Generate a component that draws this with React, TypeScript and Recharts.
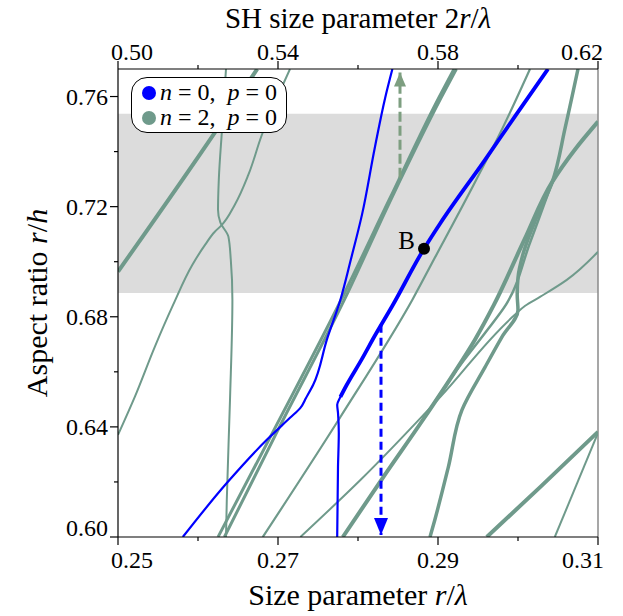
import { LineChart, Line, XAxis, YAxis, ReferenceArea, ReferenceLine, ReferenceDot, Legend, Label } from 'recharts';

const FONT = '"Liberation Serif", "DejaVu Serif", serif';
const GREEN = '#6f9a8b';
const BLUE = '#0000ff';
const ARROW_GREEN = '#7d9e80';

// axis ticks
const xTicks = [0.25, 0.26, 0.27, 0.28, 0.29, 0.3, 0.31];
const xLabelled = [0.25, 0.27, 0.29, 0.31];
const topTicks = [0.5, 0.52, 0.54, 0.56, 0.58, 0.6, 0.62];
const topLabelled = [0.5, 0.54, 0.58, 0.62];
const yTicks = [0.6, 0.62, 0.64, 0.66, 0.68, 0.7, 0.72, 0.74, 0.76];
const yLabelled = [0.6, 0.64, 0.68, 0.72, 0.76];

// shaded band (aspect ratio range)
const bandLow = 0.6886;
const bandHigh = 0.7537;

// n = 0, p = 0 branches (points ordered by rising aspect ratio)
const blueA = [
  [0.2581, 0.6], [0.2636, 0.6196], [0.2686, 0.6353], [0.2715, 0.6433], [0.2728, 0.6469],
  [0.2735, 0.6505], [0.2744, 0.6553], [0.2761, 0.6716], [0.2778, 0.6862], [0.2791, 0.7007],
  [0.2805, 0.7171], [0.2821, 0.7414], [0.2834, 0.7596], [0.2843, 0.77],
];
const blueLow = [
  [0.2774, 0.6], [0.2775, 0.6255], [0.2776, 0.6378], [0.2775, 0.6451], [0.2774, 0.648],
  [0.2778, 0.6509], [0.2786, 0.6553],
];
const blueHigh = [
  [0.2778, 0.6509], [0.2786, 0.6553], [0.2805, 0.6647], [0.2821, 0.6731], [0.2843, 0.684],
  [0.28825, 0.7047], [0.29025, 0.7138], [0.2959, 0.7371], [0.2996, 0.7527], [0.30375, 0.77],
];

// n = 2, p = 0 branches
const g1 = [[0.25, 0.6964], [0.2621, 0.7469], [0.2674, 0.77]];
const g2 = [
  [0.25, 0.6371], [0.2521, 0.6509], [0.2546, 0.6691], [0.2569, 0.6844], [0.2593, 0.6989],
  [0.2609, 0.7062], [0.2621, 0.7109], [0.2629, 0.7131], [0.2646, 0.7207], [0.2663, 0.7316],
  [0.268, 0.7462], [0.2698, 0.7589], [0.2715, 0.77],
];
const g3 = [
  [0.2635, 0.6], [0.2636, 0.6135], [0.264, 0.6498], [0.2643, 0.6862], [0.2641, 0.7007],
  [0.2638, 0.7091], [0.2628, 0.7142], [0.2625, 0.7189], [0.2626, 0.7298], [0.263, 0.748],
  [0.2635, 0.77],
];
const g4a = [[0.2625, 0.6], [0.2695, 0.6389], [0.2779, 0.6862], [0.2839, 0.7225], [0.2901, 0.7596], [0.292, 0.77]];
const g4b = [[0.2633, 0.6], [0.27, 0.6389], [0.2783, 0.6862], [0.2841, 0.7225], [0.2904, 0.7596], [0.2923, 0.77]];
const g6 = [
  [0.2681, 0.6], [0.2778, 0.6436], [0.2868, 0.6862], [0.2896, 0.7014], [0.294, 0.7254],
  [0.2981, 0.7487], [0.3015, 0.77],
];
const g7 = [
  [0.2728, 0.6], [0.2803, 0.6207], [0.2903, 0.6509], [0.2996, 0.6807], [0.3009, 0.684],
  [0.3028, 0.6873], [0.3061, 0.6934], [0.31, 0.7036],
];
const g8a = [
  [0.2781, 0.6], [0.2831, 0.6215], [0.2881, 0.6425], [0.2921, 0.66], [0.2946, 0.6716],
  [0.297, 0.6844], [0.3008, 0.708], [0.3043, 0.7291], [0.3071, 0.7407], [0.31, 0.7509],
];
const g8b = [
  [0.2881, 0.6425], [0.2928, 0.6625], [0.2959, 0.6742], [0.2985, 0.6844], [0.3015, 0.7069],
  [0.3043, 0.7291],
];
const g9 = [
  [0.289, 0.6], [0.2896, 0.6062], [0.2913, 0.6255], [0.293, 0.6462], [0.2959, 0.6618],
  [0.298, 0.6727], [0.3, 0.6825], [0.2999, 0.688], [0.3, 0.6942], [0.3006, 0.7025],
  [0.3021, 0.7145], [0.3043, 0.7291], [0.3059, 0.7487], [0.3075, 0.77],
];
const g11 = [[0.2961, 0.6], [0.3028, 0.6182], [0.31, 0.6382]];
const g12 = [[0.3046, 0.6], [0.31, 0.6378]];

// arrows and marked point (the upward arrow points to the SH axis, in 2r/λ units)
const arrowDown = [[0.282875, 0.6771], [0.282875, 0.6007]];
const arrowUpSH = [[0.5705, 0.7305], [0.5705, 0.7687]];
const pointB = { x: 0.28825, y: 0.7047, name: 'B' };

const legendItems = [
  { color: BLUE, n: '0', p: '0' },
  { color: GREEN, n: '2', p: '0' },
];

const pts = (a: number[][]) => a.map(([x, y]) => ({ x, y }));

const greenCurves = [
  { key: 'g1', data: g1, w: 4 },
  { key: 'g2', data: g2, w: 2 },
  { key: 'g3', data: g3, w: 2 },
  { key: 'g4a', data: g4a, w: 3 },
  { key: 'g4b', data: g4b, w: 3 },
  { key: 'g6', data: g6, w: 2.2 },
  { key: 'g7', data: g7, w: 2 },
  { key: 'g8a', data: g8a, w: 4 },
  { key: 'g8b', data: g8b, w: 2.5 },
  { key: 'g9', data: g9, w: 3.5 },
  { key: 'g11', data: g11, w: 4 },
  { key: 'g12', data: g12, w: 2 },
];

const blueCurves = [
  { key: 'bA', data: blueA, w: 2.2 },
  { key: 'bLow', data: blueLow, w: 2.2 },
  { key: 'bHigh', data: blueHigh, w: 3.8 },
];

const same = (a: number, b: number) => Math.abs(a - b) < 1e-9;

function BottomTick({ x, y, payload }: any) {
  const v = payload.value;
  const major = xLabelled.some(t => same(t, v));
  const len = major ? 8 : 4;
  const shift = same(v, xLabelled[0]) ? 14 : same(v, xLabelled[xLabelled.length - 1]) ? -15 : 0;
  return (
    <g>
      <line x1={x} y1={y} x2={x} y2={y + len} stroke="#000" strokeWidth={1.2} />
      {major && (
        <text x={x + shift} y={y + 31} textAnchor="middle" fontFamily={FONT} fontSize={24} fill="#000">
          {v.toFixed(2)}
        </text>
      )}
    </g>
  );
}

function TopTick({ x, y, payload }: any) {
  const v = payload.value;
  const major = topLabelled.some(t => same(t, v));
  const len = major ? 8 : 4;
  const shift = same(v, topLabelled[0]) ? 14 : same(v, topLabelled[topLabelled.length - 1]) ? -16 : 0;
  return (
    <g>
      <line x1={x} y1={y} x2={x} y2={y - len} stroke="#000" strokeWidth={1.2} />
      {major && (
        <text x={x + shift} y={y - 9} textAnchor="middle" fontFamily={FONT} fontSize={24} fill="#000">
          {v.toFixed(2)}
        </text>
      )}
    </g>
  );
}

function LeftTick({ x, y, payload }: any) {
  const v = payload.value;
  const major = yLabelled.some(t => same(t, v));
  const len = major ? 8 : 4;
  const shift = same(v, yLabelled[0]) ? -9 : 0;
  return (
    <g>
      <line x1={x} y1={y} x2={x - len} y2={y} stroke="#000" strokeWidth={1.2} />
      {major && (
        <text x={x - 10} y={y + 8 + shift} textAnchor="end" fontFamily={FONT} fontSize={24} fill="#000">
          {v.toFixed(2)}
        </text>
      )}
    </g>
  );
}

const arrowHead = (color: string, up: boolean, w: number, h: number) => (props: any) => {
  const { cx, cy, index } = props;
  if (index !== 1) return <g key={`a${index}`} />;
  const by = up ? cy + h : cy - h;
  return <polygon key={`a${index}`} points={`${cx - w},${by} ${cx + w},${by} ${cx},${cy}`} fill={color} />;
};

function LegendBox() {
  return (
    <div
      style={{
        width: 156,
        height: 56,
        boxSizing: 'border-box',
        border: '1.5px solid #000',
        borderRadius: 16,
        background: '#fff',
        padding: '2px 0 0 10px',
        fontFamily: FONT,
        fontSize: 24,
        color: '#000',
      }}
    >
      {legendItems.map(item => (
        <div key={item.n} style={{ display: 'flex', alignItems: 'center', height: 25 }}>
          <span style={{ width: 14, height: 14, borderRadius: 7, background: item.color, marginRight: 4, flex: 'none' }} />
          <span style={{ whiteSpace: 'pre' }}>
            <i>n</i> = {item.n},{'  '}<i>p</i> = {item.p}
          </span>
        </div>
      ))}
    </div>
  );
}

const lineProps = {
  dataKey: 'y',
  type: 'monotoneY' as const,
  dot: false,
  activeDot: false,
  legendType: 'none' as const,
  isAnimationActive: false,
};

export default function App() {
  return (
    <div style={{ position: 'absolute', left: 0, top: 0, width: 623, height: 616, background: '#fff' }}>
      <LineChart width={623} height={616} margin={{ top: 0, right: 25, bottom: 0, left: 0 }}>
        <XAxis
          xAxisId="bottom"
          dataKey="x"
          type="number"
          domain={[0.25, 0.31]}
          allowDataOverflow
          ticks={xTicks}
          interval={0}
          tick={<BottomTick />}
          tickLine={false}
          tickSize={0}
          tickMargin={0}
          height={79}
          axisLine={{ stroke: '#000', strokeWidth: 1.2 }}
        >
          <Label
            content={({ viewBox }: any) => (
              <text x={viewBox.x + viewBox.width / 2} y={viewBox.y + 68} textAnchor="middle" fontFamily={FONT} fontSize={30} fill="#000">
                Size parameter <tspan fontStyle="italic">r</tspan>/<tspan fontStyle="italic">λ</tspan>
              </text>
            )}
          />
        </XAxis>
        <XAxis
          xAxisId="top"
          dataKey="x"
          orientation="top"
          type="number"
          domain={[0.5, 0.62]}
          allowDataOverflow
          ticks={topTicks}
          interval={0}
          tick={<TopTick />}
          tickLine={false}
          tickSize={0}
          tickMargin={0}
          height={69}
          axisLine={{ stroke: '#000', strokeWidth: 1.2 }}
        >
          <Label
            content={({ viewBox }: any) => (
              <text x={viewBox.x + viewBox.width / 2} y={28} textAnchor="middle" fontFamily={FONT} fontSize={29} fill="#000">
                SH size parameter 2<tspan fontStyle="italic">r</tspan>/<tspan fontStyle="italic">λ</tspan>
              </text>
            )}
          />
        </XAxis>
        <YAxis
          dataKey="y"
          type="number"
          domain={[0.6, 0.77]}
          allowDataOverflow
          ticks={yTicks}
          interval={0}
          tick={<LeftTick />}
          tickLine={false}
          tickSize={0}
          tickMargin={0}
          width={118}
          axisLine={{ stroke: '#000', strokeWidth: 1.2 }}
        >
          <Label
            content={({ viewBox }: any) => {
              const cy = viewBox.y + viewBox.height / 2;
              return (
                <text x={47} y={cy} transform={`rotate(-90, 47, ${cy})`} textAnchor="middle" fontFamily={FONT} fontSize={30} fill="#000">
                  Aspect ratio <tspan fontStyle="italic">r</tspan>/<tspan fontStyle="italic">h</tspan>
                </text>
              );
            }}
          />
        </YAxis>

        <ReferenceArea xAxisId="bottom" x1={0.25} x2={0.31} y1={bandLow} y2={bandHigh} fill="#dcdcdc" fillOpacity={1} stroke="none" />
        <ReferenceLine xAxisId="bottom" x={0.31} stroke="#8a8a8a" strokeWidth={1.5} />

        {greenCurves.map(c => (
          <Line key={c.key} xAxisId="bottom" data={pts(c.data)} stroke={GREEN} strokeWidth={c.w} {...lineProps} />
        ))}
        {blueCurves.map(c => (
          <Line key={c.key} xAxisId="bottom" data={pts(c.data)} stroke={BLUE} strokeWidth={c.w} {...lineProps} />
        ))}

        <Line
          xAxisId="bottom"
          data={pts(arrowDown)}
          {...lineProps}
          type="linear"
          stroke={BLUE}
          strokeWidth={3}
          strokeDasharray="8 5"
          dot={arrowHead(BLUE, false, 7, 17)}
        />
        <Line
          xAxisId="top"
          data={pts(arrowUpSH)}
          {...lineProps}
          type="linear"
          stroke={ARROW_GREEN}
          strokeWidth={3}
          strokeDasharray="10 4"
          dot={arrowHead(ARROW_GREEN, true, 6, 14)}
        />

        <ReferenceDot
          xAxisId="bottom"
          x={pointB.x}
          y={pointB.y}
          r={6}
          fill="#000"
          stroke="none"
          label={({ viewBox }: any) => (
            <text x={viewBox.x - 3} y={viewBox.y + 6} textAnchor="end" fontFamily={FONT} fontSize={25} fill="#000">
              {pointB.name}
            </text>
          )}
        />

        <Legend
          layout="vertical"
          align="center"
          verticalAlign="middle"
          content={() => <LegendBox />}
          wrapperStyle={{ top: 77, left: 131, width: 156, height: 56 }}
        />
      </LineChart>
    </div>
  );
}
